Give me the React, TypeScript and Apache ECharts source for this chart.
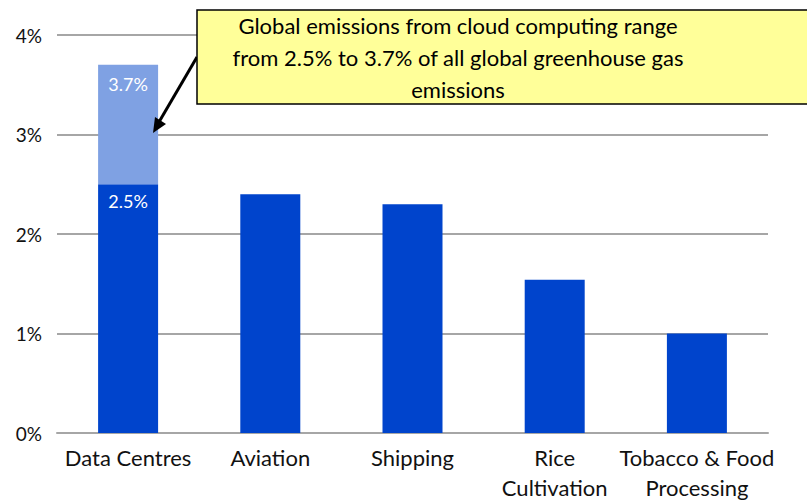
import React, { useEffect, useRef } from "react";
import * as echarts from "echarts";

const categories = ["Data Centres", "Aviation", "Shipping", "Rice\nCultivation", "Tobacco & Food\nProcessing"];
const baseValues = [2.5, 2.4, 2.3, 1.54, 1.0];
const upperRange = [1.2, "-", "-", "-", "-"];
const baseLabels = ["2.5%", "", "", "", ""];
const upperLabels = ["3.7%", "", "", "", ""];
const calloutText = "Global emissions from cloud computing range\nfrom 2.5% to 3.7% of all global greenhouse gas\nemissions";

export default function App() {
  const ref = useRef<HTMLDivElement>(null);
  useEffect(() => {
    document.body.style.margin = "0";
    const chart = echarts.init(ref.current!, null, { renderer: "svg" });
    const axisFont = "Lato, 'Noto Sans', sans-serif";
    chart.setOption({
      animation: false,
      grid: { left: 57, right: 39, top: 35, bottom: 69 },
      xAxis: {
        type: "category",
        data: categories,
        axisLine: { show: true, lineStyle: { color: "#A6A6A6", width: 2 } },
        axisTick: { show: false },
        axisLabel: { color: "#111111", fontSize: 22, fontFamily: axisFont, lineHeight: 30, margin: 9, interval: 0 },
      },
      yAxis: {
        type: "value",
        min: 0,
        max: 4,
        interval: 1,
        axisLine: { show: false },
        axisTick: { show: false },
        axisLabel: { formatter: "{value}%", color: "#111111", fontSize: 19, fontFamily: axisFont, margin: 15 },
        splitLine: { lineStyle: { color: "#A6A6A6", width: 2 } },
      },
      series: [
        {
          type: "bar",
          stack: "total",
          barWidth: 60,
          data: baseValues,
          itemStyle: { color: "#0044CC" },
          label: {
            show: true,
            position: "insideTop",
            distance: 8,
            color: "#ffffff",
            fontSize: 18,
            fontFamily: axisFont,
            formatter: (p: any) => baseLabels[p.dataIndex],
          },
        },
        {
          type: "bar",
          stack: "total",
          barWidth: 60,
          data: upperRange,
          itemStyle: { color: "#7FA1E3" },
          label: {
            show: true,
            position: "insideTop",
            distance: 10,
            color: "#ffffff",
            fontSize: 18,
            fontFamily: axisFont,
            formatter: (p: any) => upperLabels[p.dataIndex],
          },
        },
      ],
      graphic: [
        {
          type: "line",
          shape: { x1: 197, y1: 57, x2: 159, y2: 122 },
          style: { stroke: "#000", lineWidth: 3 },
          z: 100,
        },
        {
          type: "polygon",
          shape: { points: [[153, 133], [166, 124], [155, 117]] },
          style: { fill: "#000" },
          z: 100,
        },
        {
          type: "rect",
          shape: { x: 197, y: 10, width: 620, height: 94 },
          style: { fill: "#FFFF99", stroke: "#000", lineWidth: 1.5 },
          z: 100,
        },
        {
          type: "text",
          x: 458,
          y: 57,
          style: {
            text: calloutText,
            fill: "#000",
            fontSize: 22,
            fontFamily: "Lato, 'Open Sans', sans-serif",
            lineHeight: 32,
            align: "center",
            verticalAlign: "middle",
          },
          z: 101,
        },
      ],
    });
    return () => chart.dispose();
  }, []);
  return <div ref={ref} style={{ width: 807, height: 502 }} />;
}
